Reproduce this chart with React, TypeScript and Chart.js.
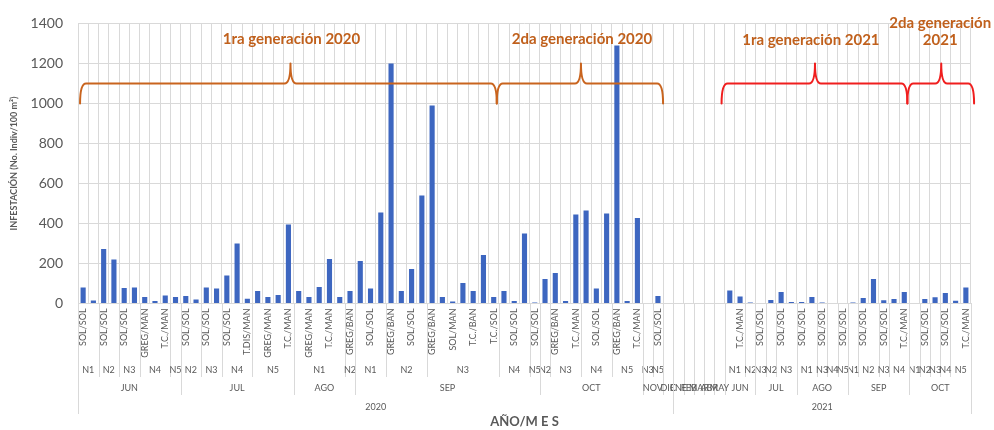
import React, { useEffect, useRef } from 'react';
import { Chart, registerables } from 'chart.js';

Chart.register(...registerables);

// Treatment labels per category (only every second one is displayed, as in the reference)
const treatments: string[] = [
  'SOL/SOL', 'SOL/SOL', 'SOL/SOL', 'SOL/SOL', 'SOL/SOL', 'SOL/SOL', 'GREG/MAN', 'SOL/SOL', 'T.C./MAN', 'T.C./MAN',
  'SOL/SOL', 'SOL/SOL', 'SOL/SOL', 'SOL/SOL', 'SOL/SOL', 'T.C./MAN', 'T.DIS/MAN', 'SOL/SOL', 'GREG/MAN', 'SOL/SOL', 'T.C./MAN',
  'SOL/SOL', 'GREG/MAN', 'SOL/SOL', 'T.C./MAN', 'SOL/SOL', 'GREG/BAN',
  'T.C./MAN', 'SOL/SOL', 'T.C./MAN', 'GREG/BAN', 'SOL/SOL', 'SOL/SOL', 'T.C./MAN', 'GREG/BAN', 'SOL/SOL', 'SOL/MAN',
  'SOL/SOL', 'T.C./BAN', 'T.C./MAN', 'T.C./SOL', 'SOL/SOL', 'SOL/SOL', 'T.C./MAN', 'SOL/SOL',
  'SOL/SOL', 'GREG/BAN', 'SOL/SOL', 'T.C./MAN', 'SOL/SOL', 'SOL/SOL', 'T.C./MAN', 'GREG/BAN', 'SOL/SOL', 'T.C./MAN',
  'SOL/SOL', 'SOL/SOL',
  '',
  '', '', '', '', '',
  'SOL/SOL', 'T.C./MAN', 'SOL/SOL',
  'SOL/SOL', 'SOL/SOL', 'SOL/SOL', 'SOL/SOL',
  'SOL/SOL', 'SOL/SOL', 'SOL/SOL', 'SOL/SOL', 'SOL/SOL',
  'SOL/SOL', 'SOL/SOL', 'SOL/SOL', 'SOL/SOL', 'SOL/SOL', 'T.C./MAN',
  'SOL/SOL', 'SOL/SOL', 'SOL/SOL', 'SOL/SOL', 'SOL/SOL', 'T.C./MAN',
];

// Infestation values (No. indiv / 100 m2)
const values2020: (number | null)[] = [
  80, 15, 272, 220, 78, 80, 33, 12, 40, 33, // JUN
  38, 20, 80, 75, 140, 300, 24, 62, 33, 42, 395, // JUL
  62, 33, 82, 222, 33, 62, // AGO
  212, 75, 455, 1200, 62, 172, 540, 990, 32, 10, 102, 62, 242, 32, 62, 12, 350, 5, // SEP
  123, 153, 12, 445, 465, 75, 450, 1290, 12, 427, // OCT
  3, 38, // NOV
  null, // DIC
];
const values2021: (number | null)[] = [
  null, null, null, null, null, // ENE..MAY
  65, 35, 5, // JUN
  3, 18, 57, 7, // JUL
  7, 33, 5, 3, 3, // AGO
  5, 28, 123, 16, 22, 58, // SEP
  2, 23, 31, 53, 14, 80, // OCT
];
const values = [...values2020, ...values2021];

// Multi-level category groups
const nLabels = [
  'N1', 'N2', 'N3', 'N4', 'N5', 'N2', 'N3', 'N4', 'N5', 'N1', 'N2', 'N1', 'N2', 'N3', 'N4', 'N5',
  'N2', 'N3', 'N4', 'N5', 'N3', 'N5', '', '', '', '', '', '',
  'N1', 'N2', 'N3', 'N2', 'N3', 'N1', 'N3', 'N4', 'N5', 'N1', 'N2', 'N3', 'N4', 'N1', 'N2', 'N3', 'N4', 'N5',
];
const nSpans = [
  2, 2, 2, 3, 1, 2, 2, 3, 4, 5, 1, 3, 4, 7, 3, 1,
  1, 3, 3, 3, 1, 1, 1, 1, 1, 1, 1, 1,
  2, 1, 1, 1, 2, 2, 1, 1, 1, 1, 2, 1, 2, 1, 1, 1, 1, 2,
];
const monthLabels = ['JUN', 'JUL', 'AGO', 'SEP', 'OCT', 'NOV', 'DIC', 'ENE', 'FEB', 'MAR', 'ABR', 'MAY', 'JUN', 'JUL', 'AGO', 'SEP', 'OCT'];
const monthSpans = [10, 11, 6, 18, 10, 2, 1, 1, 1, 1, 1, 1, 3, 4, 5, 6, 6];
const yearLabels = ['2020', '2021'];
const yearSpans = [58, 29];

// Annotations (category index / value coordinates)
const braces = [
  { from: -0.3, to: 40.3, peak: 20.2, color: '#C9641E' },
  { from: 40.3, to: 56.5, peak: 48.5, color: '#C9641E' },
  { from: 62.2, to: 80.3, peak: 71.3, color: '#F01E1E' },
  { from: 80.3, to: 86.8, peak: 83.6, color: '#F01E1E' },
];
const braceLevels = { tip: 1000, line: 1100, peak: 1200 };
const notes = [
  { text: '1ra generación 2020', at: 20.3, v: 1322 },
  { text: '2da generación 2020', at: 48.6, v: 1322 },
  { text: '1ra generación 2021', at: 70.9, v: 1315 },
  { text: '2da generación', at: 83.5, v: 1402 },
  { text: '2021', at: 83.5, v: 1315 },
];

const GRID = '#D9D9D9';
const TXT = '#595959';

const decor = {
  id: 'decor',
  afterDraw(chart: any) {
    const { ctx, scales } = chart;
    const x = scales.x;
    const y = scales.y;
    const half = (x.getPixelForValue(1) - x.getPixelForValue(0)) / 2;
    const axisY = y.getPixelForValue(0);
    ctx.save();
    ctx.strokeStyle = GRID;
    ctx.lineWidth = 1;
    const vline = (px: number, bottom: number) => {
      const xx = Math.round(px) + 0.5;
      ctx.beginPath();
      ctx.moveTo(xx, axisY);
      ctx.lineTo(xx, bottom);
      ctx.stroke();
    };
    const row = (labels: string[], spans: number[], textY: number, lineBottom: number) => {
      let start = 0;
      ctx.font = '9px Lato';
      ctx.fillStyle = TXT;
      ctx.textAlign = 'center';
      ctx.textBaseline = 'middle';
      labels.forEach((lab, i) => {
        const end = start + spans[i] - 1;
        const left = x.getPixelForValue(start) - half;
        const right = x.getPixelForValue(end) + half;
        if (i === 0) vline(left, lineBottom);
        vline(right, lineBottom);
        if (lab) ctx.fillText(lab, (left + right) / 2, textY);
        start = end + 1;
      });
    };
    row(nLabels, nSpans, 370, 377);
    row(monthLabels, monthSpans, 388, 395);
    row(yearLabels, yearSpans, 407, 414);

    // braces
    ctx.lineWidth = 2;
    ctx.lineJoin = 'round';
    ctx.lineCap = 'round';
    const yt = y.getPixelForValue(braceLevels.tip);
    const yl = y.getPixelForValue(braceLevels.line);
    const yp = y.getPixelForValue(braceLevels.peak);
    const r = 6;
    braces.forEach((b) => {
      const xa = x.getPixelForValue(b.from);
      const xb = x.getPixelForValue(b.to);
      const xm = x.getPixelForValue(b.peak);
      ctx.strokeStyle = b.color;
      ctx.beginPath();
      ctx.moveTo(xa, yt);
      ctx.quadraticCurveTo(xa, yl, xa + r, yl);
      ctx.lineTo(xm - r, yl);
      ctx.quadraticCurveTo(xm, yl, xm, yp);
      ctx.quadraticCurveTo(xm, yl, xm + r, yl);
      ctx.lineTo(xb - r, yl);
      ctx.quadraticCurveTo(xb, yl, xb, yt);
      ctx.stroke();
    });

    ctx.font = 'bold 15px Lato';
    ctx.fillStyle = '#C0601C';
    ctx.textAlign = 'center';
    ctx.textBaseline = 'middle';
    notes.forEach((n) => {
      ctx.fillText(n.text, x.getPixelForValue(n.at), y.getPixelForValue(n.v));
    });
    ctx.restore();
  },
};

export default function App() {
  const ref = useRef<HTMLCanvasElement>(null);
  useEffect(() => {
    document.body.style.margin = '0';
    const chart = new Chart(ref.current as HTMLCanvasElement, {
      type: 'bar',
      data: {
        labels: treatments,
        datasets: [
          {
            data: values as any,
            backgroundColor: '#3D66C0',
            borderWidth: 0,
            barPercentage: 0.5,
            categoryPercentage: 1.0,
          },
        ],
      },
      options: {
        animation: false,
        responsive: false,
        layout: { padding: { top: 17, right: 23, left: 0, bottom: 0 } },
        plugins: { legend: { display: false }, tooltip: { enabled: false } },
        scales: {
          x: {
            offset: true,
            grid: { offset: true, color: GRID, drawTicks: false },
            border: { display: true, color: GRID },
            ticks: {
              autoSkip: false,
              minRotation: 90,
              maxRotation: 90,
              padding: 5,
              font: { family: 'Lato', size: 9 },
              color: TXT,
              callback: (_v: any, i: number) => (i % 2 === 0 ? treatments[i] : ''),
            },
            title: {
              display: true,
              text: 'AÑO/M E S',
              font: { family: 'Lato', size: 13, weight: 'bold' },
              color: TXT,
              padding: 0,
            },
            afterFit: (s: any) => {
              s.height = 126.5;
            },
          },
          y: {
            min: 0,
            max: 1400,
            ticks: {
              stepSize: 200,
              padding: 15,
              font: { family: 'Lato', size: 14 },
              color: TXT,
              callback: (v: any) => String(v),
            },
            grid: { color: GRID, drawTicks: false },
            border: { display: false },
            title: {
              display: true,
              text: 'INFESTACIÓN (No. Indiv/100 m²)',
              font: { family: 'Lato', size: 9, weight: 'bold' },
              color: TXT,
              padding: { top: 9, bottom: 0 },
            },
            afterFit: (s: any) => {
              s.width = 78;
            },
          },
        },
      },
      plugins: [decor],
    } as any);
    return () => chart.destroy();
  }, []);
  return (
    <div style={{ width: 994, height: 430 }}>
      <canvas ref={ref} width={994} height={430} />
    </div>
  );
}
